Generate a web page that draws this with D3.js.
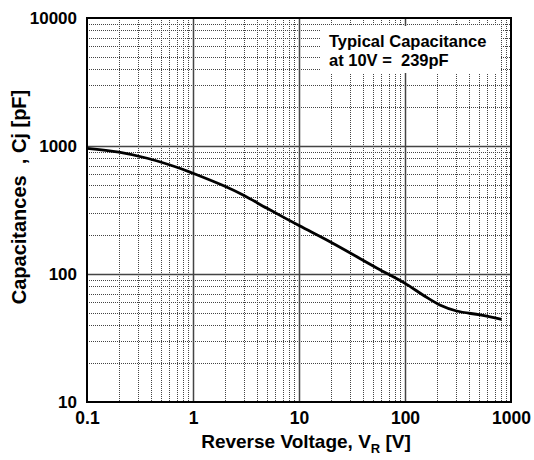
<!DOCTYPE html>
<html><head><meta charset="utf-8">
<script src="https://cdn.jsdelivr.net/npm/d3@7"></script>
<style>body{margin:0;background:#fff}svg{display:block}text{font-family:"Liberation Sans",Arial,sans-serif;font-weight:bold;fill:#000}</style>
</head><body><svg id="c" width="534" height="460"></svg>
<script>
const voltage = [0.1, 0.2, 0.37, 0.75, 1, 2, 3, 5, 10, 20, 58, 100, 150, 213, 307, 511, 817];
const capacitance = [958, 895, 802, 670, 612, 484, 412, 326, 239, 177, 108, 84.5, 68, 57.3, 51.4, 47.9, 44.3];
const xTicks = [0.1, 1, 10, 100, 1000];
const yTicks = [10, 100, 1000, 10000];
const xTickLabels = ["0.1", "1", "10", "100", "1000"];
const yTickLabels = ["10", "100", "1000", "10000"];

const svg = d3.select("#c");
const L = 87, R = 511, T = 18, B = 402;
const x = d3.scaleLog().domain([0.1, 1000]).range([L, R]);
const y = d3.scaleLog().domain([10, 10000]).range([B, T]);

const minorX = [], minorY = [];
for (let d = 0.1; d < 999; d *= 10) for (let k = 2; k <= 9; k++) minorX.push(d * k);
for (let d = 10; d < 9999; d *= 10) for (let k = 2; k <= 9; k++) minorY.push(d * k);
const g = svg.append("g");
g.selectAll(".mx").data(minorX).enter().append("line")
  .attr("x1", d => Math.round(x(d)) + 0.5).attr("x2", d => Math.round(x(d)) + 0.5)
  .attr("y1", T).attr("y2", B).attr("stroke", "#444").attr("stroke-width", 1).attr("stroke-dasharray", "1,1");
g.selectAll(".my").data(minorY).enter().append("line")
  .attr("y1", d => Math.round(y(d)) + 0.5).attr("y2", d => Math.round(y(d)) + 0.5)
  .attr("x1", L).attr("x2", R).attr("stroke", "#444").attr("stroke-width", 1).attr("stroke-dasharray", "1,1");
g.selectAll(".Mx").data(xTicks.slice(1, -1)).enter().append("line")
  .attr("x1", d => Math.round(x(d)) + 0.5).attr("x2", d => Math.round(x(d)) + 0.5)
  .attr("y1", T).attr("y2", B).attr("stroke", "#444").attr("stroke-width", 1.5);
g.selectAll(".My").data(yTicks.slice(1, -1)).enter().append("line")
  .attr("y1", d => Math.round(y(d)) + 0.5).attr("y2", d => Math.round(y(d)) + 0.5)
  .attr("x1", L).attr("x2", R).attr("stroke", "#444").attr("stroke-width", 1.5);

svg.append("rect").attr("x", 321).attr("y", 26).attr("width", 179).attr("height", 47).attr("fill", "#fff");
svg.append("text").attr("x", 329).attr("y", 47).attr("font-size", 16.5).text("Typical Capacitance");
svg.append("text").attr("x", 329).attr("y", 66).attr("font-size", 16.5).attr("xml:space", "preserve").text("at 10V =  239pF");

const line = d3.line().x((d, i) => x(voltage[i])).y((d, i) => y(capacitance[i])).curve(d3.curveCatmullRom.alpha(0.5));
svg.append("path").attr("d", line(capacitance)).attr("fill", "none").attr("stroke", "#000").attr("stroke-width", 2.8);

svg.append("rect").attr("x", L).attr("y", T).attr("width", R - L).attr("height", B - T)
  .attr("fill", "none").attr("stroke", "#000").attr("stroke-width", 2);

const xa = svg.append("g").attr("transform", `translate(0,${B})`)
  .call(d3.axisBottom(x).tickValues(xTicks).tickFormat((d, i) => xTickLabels[i]).tickSize(0).tickPadding(10));
xa.select(".domain").remove();
xa.selectAll("text").attr("font-size", 17.5).attr("y", 22).attr("dy", 0).style("font-family", "Liberation Sans, Arial, sans-serif").style("font-weight", "bold").attr("fill", "#000");
const ya = svg.append("g").attr("transform", `translate(${L},0)`)
  .call(d3.axisLeft(y).tickValues(yTicks).tickFormat((d, i) => yTickLabels[i]).tickSize(0).tickPadding(10));
ya.select(".domain").remove();
ya.selectAll("text").attr("font-size", 17).style("font-family", "Liberation Sans, Arial, sans-serif").style("font-weight", "bold").attr("fill", "#000");

const xt = svg.append("text").attr("x", 306).attr("y", 448).attr("text-anchor", "middle").attr("font-size", 19).attr("xml:space", "preserve");
xt.append("tspan").text("Reverse Voltage, V");
xt.append("tspan").attr("font-size", 13).attr("dy", 5).text("R");
xt.append("tspan").attr("dy", -5).text(" [V]");
svg.append("text").attr("transform", "translate(26,197) rotate(-90)").attr("text-anchor", "middle").attr("font-size", 20)
  .attr("xml:space", "preserve").text("Capacitances  , Cj [pF]");
</script></body></html>
